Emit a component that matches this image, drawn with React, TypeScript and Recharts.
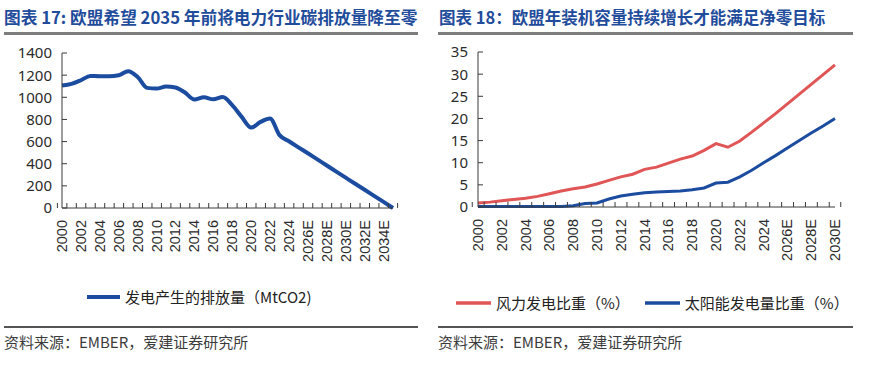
import React from 'react';
import { LineChart, Line, XAxis, YAxis, Legend } from 'recharts';

// ---------- Data: chart 17 (EU power-sector emissions, MtCO2) ----------
const emissionYears = [
  '2000', '2001', '2002', '2003', '2004', '2005', '2006', '2007', '2008', '2009',
  '2010', '2011', '2012', '2013', '2014', '2015', '2016', '2017', '2018', '2019',
  '2020', '2021', '2022', '2023', '2024', '2025E', '2026E', '2027E', '2028E', '2029E',
  '2030E', '2031E', '2032E', '2033E', '2034E', '2035E',
];
const emissionValues = [
  1106, 1121, 1154, 1193, 1190, 1190, 1199, 1236, 1184, 1085,
  1079, 1097, 1088, 1043, 980, 1000, 982, 1002, 929, 823,
  726, 778, 809, 658, 603, 548, 494, 439, 384, 329,
  274, 219, 165, 110, 55, 0,
];
const emissionTicks = [0, 200, 400, 600, 800, 1000, 1200, 1400];

// ---------- Data: chart 18 (wind / solar share, %) ----------
const shareYears = [
  '2000', '2001', '2002', '2003', '2004', '2005', '2006', '2007', '2008', '2009',
  '2010', '2011', '2012', '2013', '2014', '2015', '2016', '2017', '2018', '2019',
  '2020', '2021', '2022', '2023', '2024', '2025E', '2026E', '2027E', '2028E', '2029E',
  '2030E',
];
const windShare = [
  0.9, 1.1, 1.4, 1.7, 2.0, 2.4, 3.0, 3.6, 4.1, 4.5,
  5.2, 6.0, 6.8, 7.4, 8.5, 9.0, 9.9, 10.8, 11.5, 12.8,
  14.3, 13.5, 14.9, 16.9, 19.0, 21.1, 23.3, 25.5, 27.7, 29.9,
  32.1,
];
const solarShare = [
  0.1, 0.1, 0.1, 0.1, 0.1, 0.1, 0.1, 0.1, 0.3, 0.8,
  0.9, 1.8, 2.5, 2.9, 3.2, 3.4, 3.5, 3.6, 3.9, 4.3,
  5.4, 5.6, 6.8, 8.3, 10.0, 11.6, 13.3, 15.0, 16.7, 18.3,
  20.0,
];
const shareTicks = [0, 5, 10, 15, 20, 25, 30, 35];

// ---------- Text ----------
const leftTitle = '图表 17: 欧盟希望 2035 年前将电力行业碳排放量降至零';
const rightTitle = '图表 18：欧盟年装机容量持续增长才能满足净零目标';
const emissionName = '发电产生的排放量（MtCO2)';
const windName = '风力发电比重（%）';
const solarName = '太阳能发电量比重（%）';
const sourceText = '资料来源：EMBER，爱建证券研究所';

const emissionData = emissionYears.map((year, i) => ({ year, value: emissionValues[i] }));
const shareData = shareYears.map((year, i) => ({ year, wind: windShare[i], solar: solarShare[i] }));

// ---------- Styles ----------
const AXIS = '#3a3a3a';
const BLUE = '#1B4C9F';
const RED = '#E05555';
const TITLE_BLUE = '#1F4C9B';
const CJK = "'Noto Sans CJK SC', 'Noto Sans', sans-serif";

function makeXTick(lastIndex: number, fallbackHalf: number) {
  return (props: any) => {
    const { x, y, payload } = props;
    const half = typeof payload?.offset === 'number' && payload.offset > 0 ? payload.offset : fallbackHalf;
    const i = payload.index;
    return (
      <g>
        <line x1={x - half} x2={x - half} y1={y} y2={y - 5} stroke={AXIS} strokeWidth={1} />
        {i === lastIndex && (
          <line x1={x + half} x2={x + half} y1={y} y2={y - 5} stroke={AXIS} strokeWidth={1} />
        )}
        {i % 2 === 0 && (
          <text
            transform={`translate(${x + 5},${y + 12}) rotate(-90)`}
            textAnchor="end"
            fontSize={14.5}
            fontFamily="'Liberation Sans', Arial, sans-serif"
            fill="#2b2b2b"
          >
            {payload.value}
          </text>
        )}
      </g>
    );
  };
}

const YTick = (props: any) => {
  const { x, y, payload } = props;
  return (
    <g>
      <line x1={x} x2={x + 5} y1={y} y2={y} stroke={AXIS} strokeWidth={1} />
      <text
        x={x - 10}
        y={y}
        dy="0.36em"
        textAnchor="end"
        fontSize={15}
        fontFamily="'Noto Sans', sans-serif"
        fill="#2b2b2b"
      >
        {payload.value}
      </text>
    </g>
  );
};

const renderLegend = (order: string[], gap: number, lineW: number, thick: number) => (props: any) => {
  const items = [...(props.payload || [])].sort(
    (a: any, b: any) => order.indexOf(a.value) - order.indexOf(b.value)
  );
  return (
    <div style={{ display: 'flex', alignItems: 'center', whiteSpace: 'nowrap' }}>
      {items.map((entry: any, idx: number) => (
        <div key={idx} style={{ display: 'flex', alignItems: 'center', marginRight: gap }}>
          <svg width={lineW} height={10} style={{ display: 'block' }}>
            <line x1={0} x2={lineW} y1={5} y2={5} stroke={entry.color} strokeWidth={thick} />
          </svg>
          <span
            style={{
              marginLeft: 5,
              fontSize: 15,
              fontFamily: CJK,
              color: '#222',
              lineHeight: '20px',
            }}
          >
            {entry.value}
          </span>
        </div>
      ))}
    </div>
  );
};

const abs = (o: React.CSSProperties): React.CSSProperties => ({ position: 'absolute', ...o });

export default function App() {
  return (
    <div style={abs({ left: 0, top: 0, width: 876, height: 371, background: '#fff', overflow: 'hidden', fontFamily: CJK })}>
      {/* Titles */}
      <div style={abs({ left: 4, top: 5, fontSize: 16.7, fontWeight: 700, color: TITLE_BLUE, whiteSpace: 'nowrap', lineHeight: '24px' })}>
        {leftTitle}
      </div>
      <div style={abs({ left: 439, top: 5, fontSize: 16.5, fontWeight: 700, color: TITLE_BLUE, whiteSpace: 'nowrap', lineHeight: '24px' })}>
        {rightTitle}
      </div>
      <div style={abs({ left: 4, top: 32, width: 414, height: 2.5, background: '#7d7d7d' })} />
      <div style={abs({ left: 438, top: 32, width: 415, height: 2.5, background: '#7d7d7d' })} />

      {/* Left chart */}
      <div style={abs({ left: 0, top: 0 })}>
        <LineChart width={438} height={290} data={emissionData} margin={{ top: 53, right: 45, left: 0, bottom: 22 }}>
          <XAxis
            dataKey="year"
            interval={0}
            height={60}
            tickSize={0}
            tickMargin={0}
            tickLine={false}
            axisLine={{ stroke: AXIS }}
            tick={makeXTick(emissionYears.length - 1, (393 - 62) / emissionYears.length / 2)}
          />
          <YAxis
            width={62}
            domain={[0, 1400]}
            ticks={emissionTicks}
            interval={0}
            tickSize={0}
            tickMargin={0}
            tickLine={false}
            axisLine={{ stroke: AXIS }}
            tick={YTick}
          />
          <Legend
            layout="horizontal"
            verticalAlign="middle"
            align="center"
            wrapperStyle={{ top: 287, left: 87, width: 340, height: 20 }}
            content={renderLegend([emissionName], 10, 33, 4)}
          />
          <Line
            name={emissionName}
            dataKey="value"
            type="monotone"
            stroke={BLUE}
            strokeWidth={4}
            dot={false}
            isAnimationActive={false}
          />
        </LineChart>
      </div>

      {/* Right chart */}
      <div style={abs({ left: 438, top: 0 })}>
        <LineChart width={438} height={290} data={shareData} margin={{ top: 52, right: 41, left: 0, bottom: 23 }}>
          <XAxis
            dataKey="year"
            interval={0}
            height={60}
            tickSize={0}
            tickMargin={0}
            tickLine={false}
            axisLine={{ stroke: AXIS }}
            tick={makeXTick(shareYears.length - 1, (835 - 478) / shareYears.length / 2)}
          />
          <YAxis
            width={40}
            domain={[0, 35]}
            ticks={shareTicks}
            interval={0}
            tickSize={0}
            tickMargin={0}
            tickLine={false}
            axisLine={{ stroke: AXIS }}
            tick={YTick}
          />
          <Legend
            layout="horizontal"
            verticalAlign="middle"
            align="center"
            wrapperStyle={{ top: 293, left: 18, width: 420, height: 20 }}
            content={renderLegend([windName, solarName], 15, 35, 3.5)}
          />
          <Line
            name={windName}
            dataKey="wind"
            type="linear"
            stroke={RED}
            strokeWidth={3}
            dot={false}
            isAnimationActive={false}
          />
          <Line
            name={solarName}
            dataKey="solar"
            type="linear"
            stroke={BLUE}
            strokeWidth={3}
            dot={false}
            isAnimationActive={false}
          />
        </LineChart>
      </div>

      {/* Bottom rules and source */}
      <div style={abs({ left: 4, top: 326, width: 414, height: 1.5, background: '#555' })} />
      <div style={abs({ left: 438, top: 326, width: 415, height: 1.5, background: '#555' })} />
      <div style={abs({ left: 4, top: 332, fontSize: 15, color: '#3c3c3c', whiteSpace: 'nowrap', lineHeight: '20px' })}>
        {sourceText}
      </div>
      <div style={abs({ left: 438, top: 332, fontSize: 15, color: '#3c3c3c', whiteSpace: 'nowrap', lineHeight: '20px' })}>
        {sourceText}
      </div>
    </div>
  );
}
